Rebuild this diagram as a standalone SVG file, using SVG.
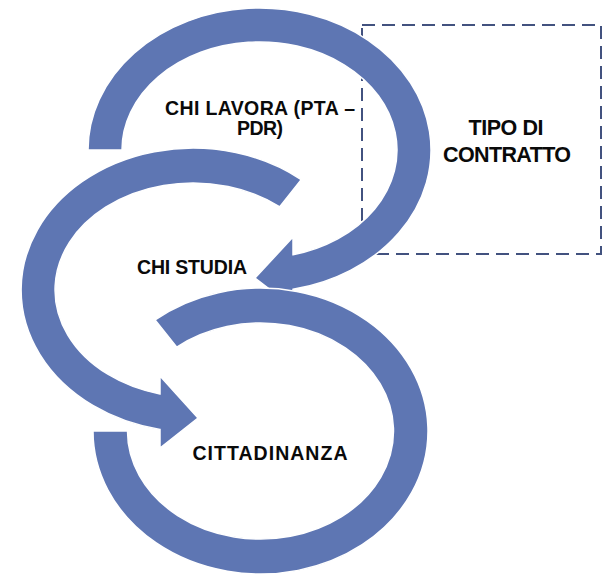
<svg xmlns="http://www.w3.org/2000/svg" width="603" height="574" viewBox="0 0 603 574">
<style>
.ring{fill:#5e76b3;stroke:#ffffff;stroke-width:1.5;stroke-linejoin:miter}
.lbl{font-family:"Liberation Sans",Arial,sans-serif;font-weight:bold;font-size:19.5px;fill:#0a0a0a;text-anchor:middle}
.big{font-size:21.5px}
.box{fill:none;stroke:#42527f;stroke-width:2;stroke-dasharray:13 7}
</style>
<rect width="603" height="574" fill="#ffffff"/>
<g id="node-tipo-contratto">
<rect class="box" x="362" y="25" width="239" height="229"/>
<text class="lbl big" x="506" y="135" textLength="75" lengthAdjust="spacing">TIPO DI</text>
<text class="lbl big" x="507" y="162" textLength="128" lengthAdjust="spacing">CONTRATTO</text>
</g>
<g id="node-chi-lavora">
<path class="ring" d="M88,150 A171.5,142 0 1 1 293,289.3 L293,307 L255,278 L293,237 L293,254.7 A137.5,108 0 1 0 122,150 Z"/>
<text class="lbl" x="260" y="115" textLength="190" lengthAdjust="spacing">CHI LAVORA (PTA –</text>
<text class="lbl" x="260" y="135" textLength="46" lengthAdjust="spacing">PDR)</text>
</g>
<g id="node-chi-studia">
<path class="ring" d="M301.2,179.6 A172,142 0 1 0 160,429.4 L160,448 L198,418 L160,376 L160,393.9 A138,107 0 1 1 279.8,206.8 Z"/>
<text class="lbl" x="192" y="274" textLength="110" lengthAdjust="spacing">CHI STUDIA</text>
</g>
<g id="node-cittadinanza">
<path class="ring" d="M93,431 A167.5,143 0 1 0 155.1,319.9 L176.8,347.1 A133,108 0 1 1 127.5,431 Z"/>
<text class="lbl" x="270" y="460" textLength="155" lengthAdjust="spacing">CITTADINANZA</text>
</g>
<g id="connectors"></g>
</svg>
